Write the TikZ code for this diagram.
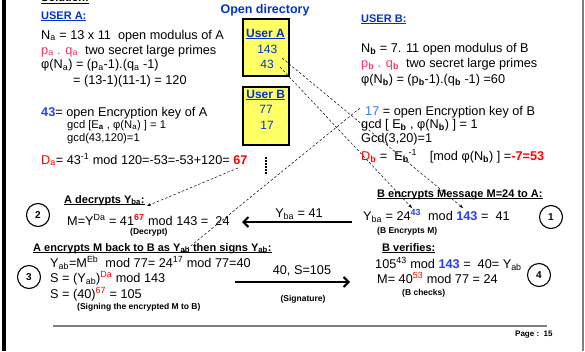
\documentclass[tikz,border=0pt]{standalone}
\usepackage{fontspec}
\setmainfont{Liberation Sans}
\usetikzlibrary{arrows.meta}
\definecolor{DirBlue}{RGB}{0,51,204}
\definecolor{KeyBlue}{RGB}{40,60,255}
\definecolor{LightBlue}{RGB}{51,119,255}
\definecolor{KeyRed}{RGB}{255,0,0}
\definecolor{PrimeRed}{RGB}{255,51,102}
\definecolor{BoxYellow}{RGB}{255,255,102}
\definecolor{RuleGray}{RGB}{128,128,128}
\newcommand{\ulx}[1]{\setbox0=\hbox{#1}\rlap{\rule[-2.2pt]{\wd0}{0.9pt}}\box0}

\begin{document}
\begin{tikzpicture}[x=1pt,y=-1pt,
  body/.style={font=\fontsize{12.7}{15}\selectfont,anchor=base west,inner sep=0pt},
  minor/.style={font=\fontsize{11.2}{13}\selectfont,anchor=base west,inner sep=0pt},
  head/.style={font=\bfseries\fontsize{11}{13}\selectfont,anchor=base west,inner sep=0pt},
  note/.style={font=\bfseries\fontsize{8.5}{10}\selectfont,anchor=base west,inner sep=0pt},
  dirbox/.style={draw,line width=1.6pt,fill=BoxYellow,minimum width=46.5pt,
                 minimum height=57.5pt,inner sep=0pt},
  entry/.style={font=\fontsize{12}{14}\selectfont,text=DirBlue,anchor=base,inner sep=0pt},
  stepno/.style={draw,circle,line width=1.1pt,minimum size=23pt,inner sep=0pt,
                 font=\bfseries\fontsize{10}{12}\selectfont},
  link/.style={dash pattern=on 2.5pt off 2pt,line width=0.5pt,-{Stealth[length=4pt,width=3pt]}},
  flow/.style={line width=2pt,-{Straight Barb[length=5pt,width=10pt]}},
]
\useasboundingbox (0,0) rectangle (585,351);
\draw[line width=4pt] (4,0) -- (4,351);
\draw[RuleGray,line width=1.2pt] (583,0) -- (583,351);
\node[head] (sol) at (41,1.2) {\ulx{Solution:}};

% user A
\node[head,text=DirBlue] (userA) at (41,19) {\ulx{USER A:}};
\node[body] (aN) at (41,39) {N\textsubscript{a} = 13 x 11\ \ open modulus of A};
\node[body] (aPQ) at (41,54) {\textcolor{PrimeRed}{p\textsubscript{a} . q\textsubscript{a}}\ \ two secret large primes};
\node[body] (aPhi) at (41,68.5) {φ(N\textsubscript{a}) = (p\textsubscript{a}-1).(q\textsubscript{a} -1)};
\node[body] (aPhiV) at (73,84) {= (13-1)(11-1) = 120};
\node[body] (aE) at (41,116) {\textcolor{KeyBlue}{\textbf{43}}= open Encryption key of A};
\node[minor] (aGcd) at (67,128) {gcd [E\textsubscript{\textbf{a}} , φ(N\textsubscript{a}) ] = 1};
\node[minor] (aGcdV) at (67,141) {gcd(43,120)=1};
\node[body] (aD) at (41,164) {\textcolor{KeyRed}{D\textsubscript{a}}= 43\textsuperscript{-1} mod 120=-53=-53+120= \textcolor{KeyRed}{\textbf{67}}};

% open directory
\node[font=\bfseries\fontsize{12.5}{14}\selectfont,text=DirBlue,anchor=base,inner sep=0pt]
  (opendir) at (265,13) {Open directory};
\node[dirbox] (boxA) at (266,47.5) {};
\node[entry,font=\bfseries\fontsize{12}{14}\selectfont] (dirA) at (265.5,37) {\ulx{User A}};
\node[entry] (dirAmod) at (267.3,53) {143};
\node[entry] (dirAkey) at (267,68) {43};
\node[dirbox] (boxB) at (266,116) {};
\node[entry,font=\bfseries\fontsize{12}{14}\selectfont] (dirB) at (265.7,98) {\ulx{User B}};
\node[entry] (dirBmod) at (266,113.5) {77};
\node[entry] (dirBkey) at (267,129) {17};
\draw[line width=1.6pt,dash pattern=on 1.6pt off 1.4pt] (266,157) -- (266,175);

% user B
\node[head,text=DirBlue] (userB) at (361,22) {\ulx{USER B:}};
\node[body] (bN) at (361,52) {N\textsubscript{\textbf{b}} = 7. 11 open modulus of B};
\node[body] (bPQ) at (361,67) {\textcolor{PrimeRed}{p\textsubscript{\textbf{b}} . q\textsubscript{\textbf{b}}}\ \ two secret large primes};
\node[body] (bPhi) at (361,83) {φ(N\textsubscript{\textbf{b}}) = (p\textsubscript{\textbf{b}}-1).(q\textsubscript{\textbf{b}} -1) =60};
\node[body] (bE) at (365,115) {\textcolor{LightBlue}{17} = open Encryption key of B};
\node[body] (bGcd) at (361,128) {gcd [ E\textsubscript{\textbf{b}} , φ(N\textsubscript{\textbf{b}}) ] = 1};
\node[body] (bGcdV) at (361,142) {Gcd(3,20)=1};
\node[body] (bD) at (361,160) {\textcolor{KeyRed}{D\textsubscript{\textbf{b}}} =\ \ E\textsubscript{\textbf{b}}\textsuperscript{-1}\quad[mod φ(N\textsubscript{\textbf{b}}) ] =\textcolor{KeyRed}{\textbf{-7=53}}};

% step 1 and 2
\node[head] (bEncHead) at (377,197) {\ulx{B encrypts Message M=24 to A:}};
\node[body] (bEnc) at (363,220) {Y\textsubscript{ba} = 24\textsuperscript{\textcolor{KeyBlue}{\textbf{43}}}\ \ mod \textcolor{KeyBlue}{\textbf{143}} =\ \ 41};
\node[note] (bEncNote) at (377,233) {(B Encrypts M)};
\node[stepno] (s1) at (551,217) {1};
\node[head] (aDecHead) at (64,203) {\ulx{A decrypts Y\textsubscript{ba}:}};
\node[body] (aDec) at (67,225) {M=Y\textsuperscript{Da} = 41\textsuperscript{\textcolor{KeyRed}{\textbf{67}}} mod 143 =\ \ 24};
\node[note] (aDecNote) at (130,234) {(Decrypt)};
\node[stepno] (s2) at (38,215) {2};
\node[body,anchor=base] (ybaLbl) at (299,217) {Y\textsubscript{ba} = 41};
\coordinate (ybaFrom) at (352,222);
\coordinate (ybaTo) at (242,222);
\draw[flow] (ybaFrom) -- (ybaTo);

% step 3 and 4
\node[head] (aSigHead) at (33,251) {\ulx{A encrypts M back to B as Y\textsubscript{ab} then signs Y\textsubscript{ab}:}};
\node[body] (aSig1) at (50,267) {Y\textsubscript{ab}=M\textsuperscript{Eb}\ \ mod 77= 24\textsuperscript{17} mod 77=40};
\node[body] (aSig2) at (50,282) {S = (Y\textsubscript{ab})\textsuperscript{\textcolor{KeyRed}{Da}} mod 143};
\node[body] (aSig3) at (50,298) {S = (40)\textsuperscript{\textcolor{KeyRed}{67}} = 105};
\node[note] (aSigNote) at (77,309) {(Signing the encrypted M to B)};
\node[stepno] (s3) at (29,277) {3};
\node[head] (bVerHead) at (382,251) {\ulx{B verifies:}};
\node[body] (bVer1) at (375,268) {105\textsuperscript{43} mod \textcolor{KeyBlue}{\textbf{143}} =\ \ 40= Y\textsubscript{ab}};
\node[body] (bVer2) at (377,283) {M= 40\textsuperscript{\textcolor{KeyRed}{53}} mod 77 = 24};
\node[note] (bVerNote) at (402,295) {(B checks)};
\node[stepno] (s4) at (539,275) {4};
\node[body,anchor=base] (sigLbl) at (302,274) {40, S=105};
\node[note,anchor=base] (sigNote) at (303,301) {(Signature)};
\coordinate (sigFrom) at (235,282);
\coordinate (sigTo) at (350,282);
\draw[flow] (sigFrom) -- (sigTo);

% key links
\coordinate (fromAmod) at (282,58);
\coordinate (fromAkey) at (280,67);
\coordinate (fromBkey) at (360,108);
\coordinate (fromDa) at (238,168);
\coordinate (toBmod) at (463,208);
\coordinate (toBexp) at (412,208);
\coordinate (toAexp) at (182,253);
\coordinate (toAdec) at (147,206);
\draw[link] (fromAmod) -- (toBmod);
\draw[link] (fromAkey) -- (toBexp);
\draw[link] (fromBkey) -- (toAexp);
\draw[link] (fromDa) -- (toAdec);

\draw[RuleGray,line width=1.4pt] (53,326) -- (547,326);
\node[note,font=\bfseries\fontsize{8}{10}\selectfont] (page) at (515,336) {Page :\ \ 15};
\end{tikzpicture}
\end{document}
